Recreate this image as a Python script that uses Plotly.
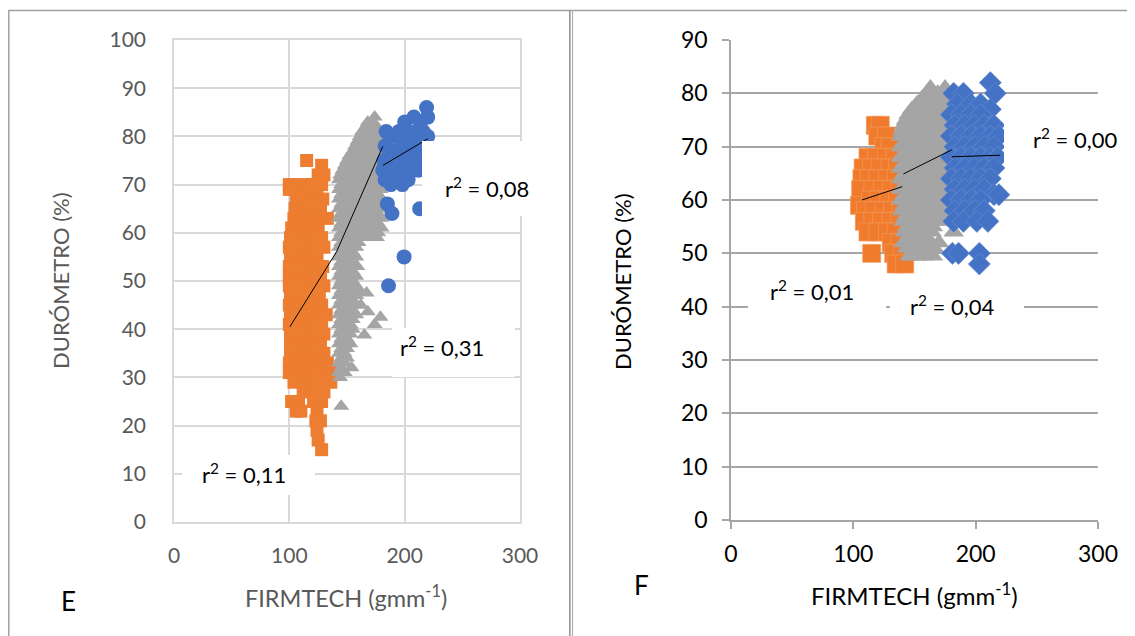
import plotly.graph_objects as go

W, H = 1135, 636
FONT = "Lato"
OFF = 8  # page body margin shift

# ---------------- Panel E data ----------------
e_orange_x = [115, 128, 125, 130,
              100, 105, 112, 120, 128,
              100, 108, 116, 124,
              106, 113, 121, 129,
              105, 112, 119, 127,
              104, 110, 118, 126, 133,
              102, 109, 117, 125,
              101, 104, 112, 120, 128,
              100, 106, 114, 122, 130,
              101, 108, 116, 124,
              100, 106, 113, 121, 129,
              100, 105, 112, 119, 127,
              100, 107, 114, 122, 130,
              101, 104, 111, 118, 126,
              100, 106, 113, 121, 128,
              101, 103, 110, 117, 125, 132,
              100, 104, 112, 120, 128,
              101, 106, 113, 121, 130,
              101, 105, 112, 119, 127,
              101, 107, 114, 122, 130,
              100, 104, 111, 118, 126, 133,
              100, 103, 110, 117, 125, 134, 140,
              104, 112, 120, 128, 136,
              112, 122, 130,
              102, 108, 121, 128,
              106, 110, 124,
              123, 127,
              124, 125, 128]
e_orange_y = [75, 74, 72, 72,
              70, 70, 70, 70, 70,
              69, 69, 69, 69,
              67, 67, 67, 67,
              65, 65, 65, 65,
              63, 63, 63, 63, 63,
              61, 61, 61, 61,
              59, 59, 59, 59, 59,
              57, 57, 57, 57, 57,
              55, 55, 55, 55,
              53, 53, 53, 53, 53,
              51, 51, 51, 51, 51,
              49, 49, 49, 49, 49,
              47, 47, 47, 47, 47,
              45, 45, 45, 45, 45,
              43, 43, 43, 43, 43, 43,
              41, 41, 41, 41, 41,
              39, 39, 39, 39, 39,
              37, 37, 37, 37, 37,
              35, 35, 35, 35, 35,
              33, 33, 33, 33, 33, 33,
              31, 31, 31, 31, 31, 31, 31,
              29, 29, 29, 29, 29,
              27, 27, 27,
              25, 25, 25, 25,
              23, 23, 23,
              21, 21,
              19, 17, 15]

e_gray_x = [174,
            168, 172,
            166, 171, 176,
            163, 169, 174,
            161, 166, 171, 177,
            159, 164, 169, 175,
            157, 162, 167, 172, 178,
            155, 160, 165, 170, 176,
            152, 157, 162, 167, 173, 178,
            150, 155, 160, 165, 171, 176,
            148, 153, 158, 163, 168, 174, 179,
            146, 151, 156, 161, 166, 172, 177,
            144, 149, 154, 159, 164, 170, 175,
            143, 148, 153, 158, 163, 168, 174, 179,
            145, 150, 155, 160, 166, 171, 177,
            143, 148, 153, 158, 163, 168, 174, 179,
            145, 150, 155, 160, 166, 171, 177,
            143, 148, 153, 158, 163, 168, 174, 180,
            145, 150, 155, 160, 166, 171, 177, 182,
            143, 148, 153, 158, 163, 168, 174, 180,
            145, 150, 155, 160, 166, 171, 177,
            143, 148, 153, 158, 163, 168, 174, 180,
            145, 150, 155, 160, 166, 171, 177,
            143, 148, 153, 158, 163, 168, 174, 180,
            145, 150, 155, 160, 166, 171, 177,
            143, 148, 153, 158, 164, 170, 176,
            145, 150, 155, 160,
            143, 148, 153, 158,
            145, 150, 155,
            143, 148, 153, 158,
            145, 150, 155,
            143, 148, 153, 159,
            145, 150, 155,
            143, 148, 153, 158,
            145, 150, 155,
            143, 148, 153, 158,
            145, 150, 155, 161,
            143, 148, 153, 158, 167,
            145, 150, 155,
            143, 148, 153, 158, 162,
            145, 150, 155, 168,
            143, 148, 153, 158,
            145, 150, 155, 179,
            143, 148, 153, 174,
            145, 150, 155,
            143, 148, 153, 165,
            145, 150,
            143, 148, 153,
            145, 150,
            143, 148,
            145, 150,
            143, 148, 154,
            145,
            143, 148,
            144,
            145]
e_gray_y = [84,
            83, 83,
            82, 82, 82,
            81, 81, 81,
            80, 80, 80, 80,
            79, 79, 79, 79,
            78, 78, 78, 78, 78,
            77, 77, 77, 77, 77,
            76, 76, 76, 76, 76, 76,
            75, 75, 75, 75, 75, 75,
            74, 74, 74, 74, 74, 74, 74,
            73, 73, 73, 73, 73, 73, 73,
            72, 72, 72, 72, 72, 72, 72,
            71, 71, 71, 71, 71, 71, 71, 71,
            70, 70, 70, 70, 70, 70, 70,
            69, 69, 69, 69, 69, 69, 69, 69,
            68, 68, 68, 68, 68, 68, 68,
            67, 67, 67, 67, 67, 67, 67, 67,
            66, 66, 66, 66, 66, 66, 66, 66,
            65, 65, 65, 65, 65, 65, 65, 65,
            64, 64, 64, 64, 64, 64, 64,
            63, 63, 63, 63, 63, 63, 63, 63,
            62, 62, 62, 62, 62, 62, 62,
            61, 61, 61, 61, 61, 61, 61, 61,
            60, 60, 60, 60, 60, 60, 60,
            59, 59, 59, 59, 59, 59, 59,
            58, 58, 58, 58,
            57, 57, 57, 57,
            56, 56, 56,
            55, 55, 55, 55,
            54, 54, 54,
            53, 53, 53, 53,
            52, 52, 52,
            51, 51, 51, 51,
            50, 50, 50,
            49, 49, 49, 49,
            48, 48, 48, 48,
            47, 47, 47, 47, 47.5,
            46, 46, 46,
            45, 45, 45, 45, 45,
            44, 44, 44, 43.6,
            43, 43, 43, 43,
            42, 42, 42, 42.5,
            41, 41, 41, 41,
            40, 40, 40,
            39, 39, 39, 38.8,
            38, 38,
            37, 37, 37,
            36, 36,
            35, 35,
            34, 34,
            33, 33, 32,
            32,
            31, 31,
            30,
            24]

e_blue_x = [219, 220, 208, 214, 200, 195, 203, 210, 216, 184,
            190, 198, 206, 213, 220, 183, 189, 196, 204, 211, 217,
            182, 188, 195, 202, 209, 214, 181, 187, 194, 201, 207, 212,
            183, 189, 196, 203, 188, 198,
            185, 189, 213, 199.5, 186]
e_blue_y = [86, 84, 84, 83, 83, 81, 81, 81, 81, 81,
            80, 79, 79, 79, 80, 78, 77, 77, 77, 77, 77,
            75, 75, 75, 75, 75, 75, 73, 73, 73, 73, 73, 73,
            71, 71, 71, 71, 70, 70,
            66, 64, 65, 55, 49]

e_trend_orange = ([100.5, 141], [40.5, 56.1])
e_trend_gray = ([141, 181], [56.1, 77.9])
e_trend_blue = ([181.3, 220], [74, 79.5])

# ---------------- Panel F data ----------------
f_orange_x = [118, 122, 120, 127, 125, 130,
              112, 119, 127, 134,
              108, 115, 122, 130, 136,
              107, 113, 120, 128, 135,
              106, 116, 124, 131, 138,
              105, 114, 121, 129, 136,
              110, 117, 125, 132, 139,
              109, 116, 123, 131, 138,
              112, 120, 128, 135,
              131, 138,
              115, 133, 140,
              135, 142]
f_orange_y = [74, 74, 72, 72, 70, 70,
              68, 68, 68, 68,
              66, 66, 66, 66, 66,
              64, 64, 64, 64, 64,
              62, 62, 62, 62, 62,
              59, 60, 60, 60, 60,
              58, 58, 58, 58, 58,
              56, 56, 56, 56, 56,
              54, 54, 54, 54,
              52, 52,
              50, 50, 50,
              48, 48]

f_gray_x = [163, 175,
            160, 169,
            156, 165, 174,
            152, 160, 168, 176,
            148, 156, 164, 172,
            145, 152, 160, 168, 175,
            143, 149, 156, 164, 171, 178,
            141, 148, 155, 162, 169, 176,
            140, 146, 153, 160, 167, 174,
            139, 146, 153, 160, 167, 174, 179,
            142, 149, 156, 163, 170, 177,
            139, 146, 153, 160, 167, 174, 179,
            142, 149, 156, 163, 170, 177,
            139, 146, 153, 160, 167, 174, 179,
            142, 149, 156, 163, 170, 177,
            139, 146, 153, 160, 167, 174, 179,
            142, 149, 156, 163, 170, 177,
            139, 146, 153, 160, 167, 174, 179,
            142, 149, 156, 163, 170, 177,
            139, 146, 153, 160, 167, 174, 179,
            142, 149, 156, 163, 170, 177,
            139, 146, 153, 160, 167, 174, 179,
            142, 149, 156, 163, 170, 177,
            140, 147, 154, 161, 168, 175,
            143, 150, 157, 164, 171,
            141, 148, 155, 162, 170, 177,
            144, 151, 158, 165,
            142, 149, 157, 164, 182,
            146, 153, 160,
            141, 148, 155, 162, 170,
            144, 151, 158, 166,
            146, 152, 158, 165]
f_gray_y = [81, 81,
            80, 80,
            79, 79, 79,
            78, 78, 78, 78,
            77, 77, 77, 77,
            76, 76, 76, 76, 76,
            75, 75, 75, 75, 75, 75,
            74, 74, 74, 74, 74, 74,
            73, 73, 73, 73, 73, 73,
            72, 72, 72, 72, 72, 72, 72,
            71, 71, 71, 71, 71, 71,
            70, 70, 70, 70, 70, 70, 70,
            69, 69, 69, 69, 69, 69,
            68, 68, 68, 68, 68, 68, 68,
            67, 67, 67, 67, 67, 67,
            66, 66, 66, 66, 66, 66, 66,
            65, 65, 65, 65, 65, 65,
            64, 64, 64, 64, 64, 64, 64,
            63, 63, 63, 63, 63, 63,
            62, 62, 62, 62, 62, 62, 62,
            61, 61, 61, 61, 61, 61,
            60, 60, 60, 60, 60, 60, 60,
            59, 59, 59, 59, 59, 59,
            58, 58, 58, 58, 58, 58,
            57, 57, 57, 57, 57,
            56, 56, 56, 56, 56, 56,
            55, 55, 55, 55,
            54, 54, 54, 54, 54,
            53, 53, 53,
            52, 52, 52, 52, 52,
            51, 51, 51, 51,
            49.5, 49.5, 49.5, 49.5]

f_blue_x = [212,
            182, 190, 216,
            185, 196, 204,
            212,
            180, 188, 196, 204,
            183, 191, 199, 207, 215,
            180, 188, 196, 204, 212, 219,
            183, 191, 199, 207, 215,
            180, 188, 196, 204, 212, 218,
            183, 191, 199, 207, 215,
            180, 188, 196, 204, 212,
            183, 191, 199, 207,
            215, 219,
            180, 188, 196, 204,
            183, 191, 199, 207,
            182, 190, 201, 210,
            181, 186, 203,
            203]
f_blue_y = [82,
            80, 80, 80,
            78, 78, 78,
            77,
            76, 76, 76, 76,
            74, 74, 74, 74, 74,
            72, 72, 72, 72, 72, 72,
            70, 70, 70, 70, 70,
            68, 68, 68, 68, 68, 68,
            66, 66, 66, 66, 66,
            64, 64, 64, 64, 64,
            62, 62, 62, 62,
            61, 61,
            60, 60, 60, 60,
            58, 58, 58, 58,
            56, 56, 56, 56,
            50, 50, 50,
            48]

f_trend_orange = ([107, 140], [60, 62.5])
f_trend_gray = ([141, 180.4], [64.9, 69.4])
f_trend_blue = ([180.4, 220], [68.1, 68.4])

x_ticks = [0, 100, 200, 300]
e_y_ticks = list(range(0, 101, 10))
f_y_ticks = list(range(0, 91, 10))

ORANGE = "#ED7D31"
GRAY = "#A5A5A5"
BLUE = "#4472C4"


def px(x):
    return (x - OFF) / W


def py(y):
    return 1 - (y - OFF) / H


fig = go.Figure()


def scatter(x, y, color, symbol, size, xa, ya, edge=None):
    line = dict(width=0) if edge is None else dict(width=0.7, color=edge)
    fig.add_trace(go.Scatter(x=x, y=y, mode="markers", xaxis=xa, yaxis=ya,
                             marker=dict(color=color, symbol=symbol, size=size,
                                         line=line),
                             showlegend=False, hoverinfo="skip"))


def trend(t, xa, ya):
    fig.add_trace(go.Scatter(x=t[0], y=t[1], mode="lines", xaxis=xa, yaxis=ya,
                             line=dict(color="black", width=1),
                             showlegend=False, hoverinfo="skip"))


scatter(e_orange_x, e_orange_y, ORANGE, "square", 13, "x", "y")
scatter(e_gray_x, e_gray_y, GRAY, "triangle-up", 14, "x", "y")
scatter(e_blue_x, e_blue_y, BLUE, "circle", 15, "x", "y")
trend(e_trend_orange, "x", "y")
trend(e_trend_gray, "x", "y")
trend(e_trend_blue, "x", "y")

scatter(f_orange_x, f_orange_y, "#F07B2C", "square", 18, "x2", "y2", "#F49A5C")
scatter(f_gray_x, f_gray_y, GRAY, "triangle-up", 18, "x2", "y2")
scatter(f_blue_x, f_blue_y, BLUE, "diamond", 17, "x2", "y2", "#6C8FD3")
trend(f_trend_orange, "x2", "y2")
trend(f_trend_gray, "x2", "y2")
trend(f_trend_blue, "x2", "y2")

LGRID = "#D9D9D9"
DGRID = "#A6A6A6"

fig.update_layout(
    width=W, height=H,
    margin=dict(l=0, r=0, t=0, b=0, pad=0, autoexpand=False),
    paper_bgcolor="white", plot_bgcolor="white",
    showlegend=False, hovermode=False,
    font=dict(family=FONT),
    xaxis=dict(domain=[px(174), px(520)], range=[0, 300], tickvals=x_ticks,
               showgrid=True, gridcolor=LGRID, gridwidth=1.5, zeroline=False,
               showline=True, linecolor=LGRID, linewidth=1.5, mirror=True,
               ticks="", ticklabelstandoff=14, automargin=False,
               tickfont=dict(family=FONT, size=21, color="#595959"),
               anchor="y", fixedrange=True),
    yaxis=dict(domain=[py(522), py(40)], range=[0, 100], tickvals=e_y_ticks,
               showgrid=True, gridcolor=LGRID, gridwidth=1.5, zeroline=False,
               showline=True, linecolor=LGRID, linewidth=1.5, mirror=True,
               ticks="", ticklabelstandoff=22, automargin=False,
               tickfont=dict(family=FONT, size=21, color="#595959"),
               anchor="x", fixedrange=True),
    xaxis2=dict(domain=[px(731), px(1098)], range=[0, 300], tickvals=x_ticks,
                showgrid=False, zeroline=False,
                showline=True, linecolor=DGRID, linewidth=1.5,
                ticks="outside", ticklen=7, tickcolor=DGRID, tickwidth=1.5,
                ticklabelstandoff=6, automargin=False,
                tickfont=dict(family=FONT, size=23, color="black"),
                anchor="y2", fixedrange=True),
    yaxis2=dict(domain=[py(520), py(40)], range=[0, 90], tickvals=f_y_ticks,
                showgrid=True, gridcolor=DGRID, gridwidth=1.5, zeroline=False,
                showline=True, linecolor=DGRID, linewidth=1.5,
                ticks="outside", ticklen=7, tickcolor=DGRID, tickwidth=1.5,
                ticklabelstandoff=10, automargin=False,
                tickfont=dict(family=FONT, size=23, color="black"),
                anchor="x2", fixedrange=True),
)

# frames / dividers
BORDER = "#A0A0A0"
shapes = [
    dict(type="line", xref="paper", yref="paper", x0=px(8.8), x1=px(1143), y0=py(10.5), y1=py(10.5),
         line=dict(color=BORDER, width=1.5)),
    dict(type="line", xref="paper", yref="paper", x0=px(8.8), x1=px(8.8), y0=py(10), y1=py(644),
         line=dict(color=BORDER, width=1.5)),
    dict(type="line", xref="paper", yref="paper", x0=px(569.8), x1=px(569.8), y0=py(10), y1=py(644),
         line=dict(color="#909090", width=1.5)),
    dict(type="line", xref="paper", yref="paper", x0=px(572.5), x1=px(572.5), y0=py(10), y1=py(644),
         line=dict(color="#B0B0B0", width=1.2)),
]

# white label boxes (x0, x1, y0, y1 in px)
boxes = [(422, 548, 141, 216), (392, 515, 328, 377), (182, 315, 455, 495),
         (1004, 1112, 115, 165), (748, 886, 266, 330), (890, 1024, 282, 330)]
for (a, b, c, d) in boxes:
    shapes.append(dict(type="rect", xref="paper", yref="paper", layer="above",
                       x0=px(a), x1=px(b), y0=py(d), y1=py(c),
                       fillcolor="white", line=dict(width=0)))
fig.update_layout(shapes=shapes)

ann = []


def text(s, x, y, size, color="black", xanchor="left", angle=0):
    ann.append(dict(text=s, x=px(x), y=py(y), xref="paper", yref="paper",
                    xanchor=xanchor, yanchor="middle", showarrow=False,
                    textangle=angle, font=dict(family=FONT, size=size, color=color)))


# r² labels
text("r<sup>2</sup> = 0,08", 443, 188, 22)
text("r<sup>2</sup> = 0,31", 398, 346, 22)
text("r<sup>2</sup> = 0,11", 200, 474, 22)
text("r<sup>2</sup> = 0,00", 1031, 138, 22)
text("r<sup>2</sup> = 0,01", 768, 290, 22)
text("r<sup>2</sup> = 0,04", 908, 305, 22)

# axis titles & panel letters
text("DURÓMETRO (%)", 60, 281, 22, "#595959", "center", -90)
text("FIRMTECH (gmm<sup>-1</sup>)", 346, 596, 23.5, "#595959", "center")
text("E", 68, 601, 26, "black", "center")
text("DURÓMETRO (%)", 622, 282, 22, "black", "center", -90)
text("FIRMTECH (gmm<sup>-1</sup>)", 915, 594, 24, "black", "center")
text("F", 641, 585, 26, "black", "center")

fig.update_layout(annotations=ann)

fig.write_html("out.html")
